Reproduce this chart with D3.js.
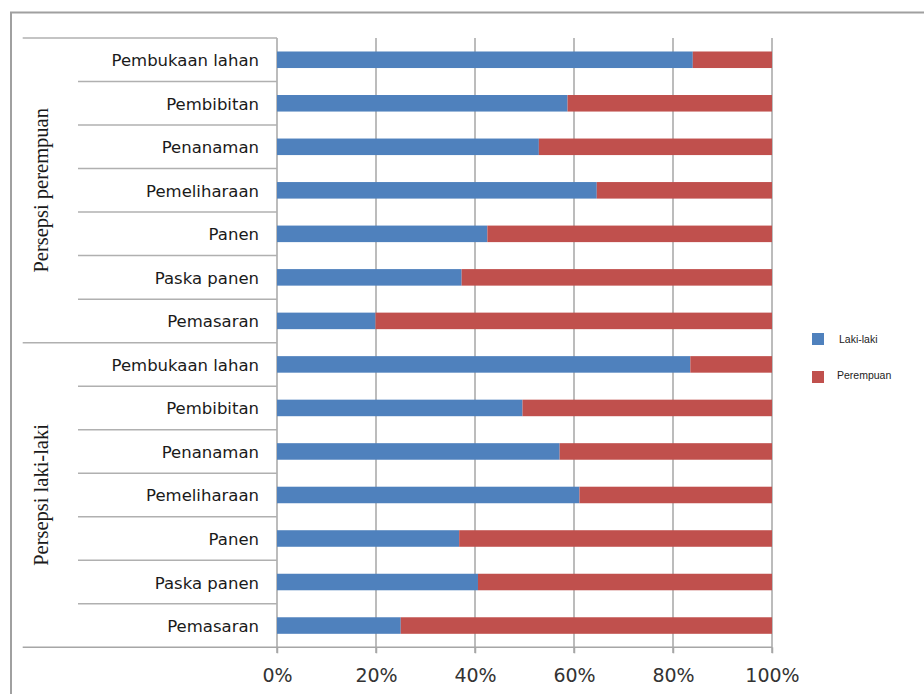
<!DOCTYPE html>
<html>
<head>
<meta charset="utf-8">
<script src="https://cdn.jsdelivr.net/npm/d3@7"></script>
<style>
  body { margin: 0; background: #fff; }
  svg { display: block; }
</style>
</head>
<body>
<script>
var w = 924
var h = 694

// data (percent)
var tasks = ["Pembukaan lahan", "Pembibitan", "Penanaman", "Pemeliharaan", "Panen", "Paska panen", "Pemasaran"];
var groups = ["Persepsi perempuan", "Persepsi laki-laki"];
var series = ["Laki-laki", "Perempuan"];
var lakiByPerempuan = [84.0, 58.7, 52.9, 64.6, 42.5, 37.3, 19.9];
var perempuanByPerempuan = [16.0, 41.3, 47.1, 35.4, 57.5, 62.7, 80.1];
var lakiByLaki = [83.5, 49.6, 57.1, 61.1, 36.8, 40.6, 25.0];
var perempuanByLaki = [16.5, 50.4, 42.9, 38.9, 63.2, 59.4, 75.0];
var ticks = [0, 20, 40, 60, 80, 100];

var colors = ["#4f81bd", "#c0504d"];

var rows = [];
groups.forEach(function(g, gi) {
  var laki = gi == 0 ? lakiByPerempuan : lakiByLaki;
  var per = gi == 0 ? perempuanByPerempuan : perempuanByLaki;
  tasks.forEach(function(t, ti) {
    rows.push({id: gi + "-" + ti, group: gi, task: t, first: ti == 0, vals: [laki[ti], per[ti]]});
  });
});

var x = d3.scaleLinear().domain([0, 100]).range([277, 772]);
var y = d3.scaleBand().domain(rows.map(function(d) { return d.id; })).range([38, 647.3]).padding(0);
var bw = y.bandwidth();

var svg = d3.select("body")
  .append("svg")
  .attr("width", w)
  .attr("height", h)

// outer frame (left + top only visible)
svg.append("path")
  .attr("d", "M11," + h + "V12.5H" + w)
  .attr("fill", "none")
  .attr("stroke", "#a0a0a0")
  .attr("stroke-width", 2)

// vertical gridlines
svg.selectAll(".grid")
  .data(ticks)
  .enter().append("line")
  .attr("class", "grid")
  .attr("x1", function(d) { return x(d); })
  .attr("x2", function(d) { return x(d); })
  .attr("y1", 38)
  .attr("y2", 653)
  .attr("stroke", "#a6a6a6")
  .attr("stroke-width", 1.5)

// bars
var stacks = svg.selectAll(".row")
  .data(rows)
  .enter().append("g")
  .attr("class", "row")

stacks.selectAll("rect")
  .data(function(d) {
    var acc = 0;
    return d.vals.map(function(v, i) {
      var s = {x0: acc, x1: acc + v, i: i, id: d.id};
      acc += v;
      return s;
    });
  })
  .enter().append("rect")
  .attr("x", function(d) { return x(d.x0); })
  .attr("width", function(d) { return x(d.x1) - x(d.x0); })
  .attr("y", function(d) { return y(d.id) + bw * 0.31; })
  .attr("height", bw * 0.38)
  .attr("fill", function(d) { return colors[d.i]; })

// row separator lines in the label area
svg.selectAll(".sep")
  .data(rows)
  .enter().append("line")
  .attr("class", "sep")
  .attr("x1", function(d) { return d.first ? 22.7 : 78; })
  .attr("x2", 277)
  .attr("y1", function(d) { return y(d.id); })
  .attr("y2", function(d) { return y(d.id); })
  .attr("stroke", "#b0b0b0")
  .attr("stroke-width", 1.5)

// bottom axis line
svg.append("line")
  .attr("x1", 22.7)
  .attr("x2", x(100))
  .attr("y1", 647.3)
  .attr("y2", 647.3)
  .attr("stroke", "#a6a6a6")
  .attr("stroke-width", 1.5)

// category labels
svg.selectAll(".lab")
  .data(rows)
  .enter().append("text")
  .attr("class", "lab")
  .attr("x", 259)
  .attr("y", function(d) { return y(d.id) + bw / 2 + 6.5; })
  .attr("text-anchor", "end")
  .attr("font-family", "DejaVu Sans")
  .attr("font-size", 16.5)
  .attr("fill", "#1a1a1a")
  .text(function(d) { return d.task; })

// group labels
groups.forEach(function(g, gi) {
  var top = y(gi + "-0");
  var bot = y(gi + "-" + (tasks.length - 1)) + bw;
  var cy = (top + bot) / 2;
  svg.append("text")
    .attr("transform", "translate(48," + cy + ") rotate(-90)")
    .attr("text-anchor", "middle")
    .attr("font-family", "Liberation Serif")
    .attr("font-size", 20.5)
    .attr("fill", "#1a1a1a")
    .text(g)
});

// x axis
var axis = svg.append("g")
  .attr("transform", "translate(0,647.3)")
  .call(d3.axisBottom(x).tickValues(ticks).tickSize(6).tickPadding(15)
    .tickFormat(function(d) { return d + "%"; }))

axis.select(".domain").remove()
axis.selectAll(".tick line").attr("stroke", "#a6a6a6").attr("stroke-width", 1.5)
axis.selectAll("text")
  .attr("font-family", "DejaVu Sans")
  .attr("font-size", 19)
  .attr("fill", "#333")

// legend
var legend = svg.selectAll(".leg")
  .data(series)
  .enter().append("g")
  .attr("class", "leg")
  .attr("transform", function(d, i) { return "translate(812," + (333 + i * 38) + ")"; })

legend.append("rect")
  .attr("width", 12)
  .attr("height", 12)
  .attr("fill", function(d, i) { return colors[i]; })

legend.append("text")
  .attr("x", function(d, i) { return i == 0 ? 27 : 25; })
  .attr("y", function(d, i) { return i == 0 ? 9.5 : 7.5; })
  .attr("font-family", "Liberation Sans")
  .attr("font-size", 10.5)
  .attr("fill", "#222")
  .text(function(d) { return d; })
</script>
</body>
</html>
